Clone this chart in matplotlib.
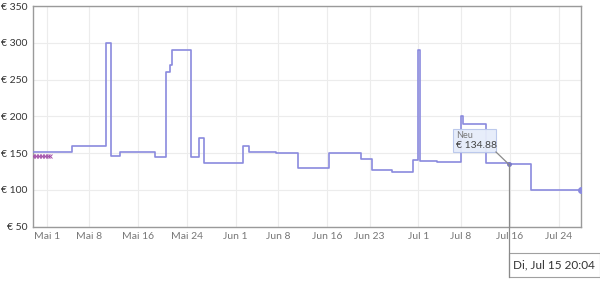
import pandas as pd
import matplotlib
matplotlib.use("Agg")
import matplotlib.pyplot as plt
import matplotlib.dates as mdates
from matplotlib.patches import Rectangle

plt.rcParams['font.family'] = ['Lato', 'DejaVu Sans']

# price history (step, value holds until next date)
step_dates = ["2025-04-28 18:00", "2025-05-05 04:00", "2025-05-10 18:00", "2025-05-11 12:00",
              "2025-05-13 01:00", "2025-05-18 19:00", "2025-05-20 13:00", "2025-05-21 06:00",
              "2025-05-21 14:00", "2025-05-24 16:00", "2025-05-26 01:00", "2025-05-26 21:00",
              "2025-06-02 04:00", "2025-06-03 05:00", "2025-06-07 14:00", "2025-06-11 04:00",
              "2025-06-16 06:00", "2025-06-21 14:00", "2025-06-23 09:00", "2025-06-26 16:00",
              "2025-06-30 02:00", "2025-06-30 23:00", "2025-07-01 05:00", "2025-07-04 00:00",
              "2025-07-07 23:30", "2025-07-08 07:00", "2025-07-12 02:00", "2025-07-15 20:04",
              "2025-07-19 11:00", "2025-07-27 16:00"]
step_prices = [151, 160, 300, 146, 151, 145, 260, 270, 290, 145, 170, 137,
               160, 152, 150, 130, 150, 142, 126.5, 125, 140, 290, 139, 137.5,
               200, 190, 136.5, 134.88, 100, 100]

# second series (x markers) at the start
mark_dates = ["2025-04-28 18:00", "2025-04-29 06:00", "2025-04-29 18:00",
              "2025-04-30 06:00", "2025-04-30 18:00", "2025-05-01 06:00", "2025-05-01 14:00"]
mark_prices = [146, 146, 146, 146, 146, 146, 146]

tick_dates = ["2025-05-01", "2025-05-08", "2025-05-16", "2025-05-24", "2025-06-01", "2025-06-08",
              "2025-06-16", "2025-06-23", "2025-07-01", "2025-07-08", "2025-07-16", "2025-07-24"]
tick_labels = ["Mai 1", "Mai 8", "Mai 16", "Mai 24", "Jun 1", "Jun 8",
               "Jun 16", "Jun 23", "Jul 1", "Jul 8", "Jul 16", "Jul 24"]
month_starts = ["2025-05-01", "2025-06-01", "2025-07-01"]
y_ticks = [50, 100, 150, 200, 250, 300, 350]

hover_date = "2025-07-15 20:04"
hover_price = 134.88

sd = pd.to_datetime(step_dates)
md = pd.to_datetime(mark_dates)

fig = plt.figure(figsize=(6, 2.82), dpi=100)
ax = fig.add_axes([33/600, 55.3/282, 548/600, 220.7/282])

line_c = '#8a8ade'
ax.step(sd, step_prices, where='post', color=line_c, lw=1.2, zorder=3)
ax.plot(sd[-1], step_prices[-1], 'o', color=line_c, ms=4, zorder=4)
ax.plot(md, mark_prices, color='#a452aa', lw=0.6, marker='x', ms=2.5, mew=0.7, zorder=4)

ax.set_xlim(pd.Timestamp("2025-04-28 18:00"), pd.Timestamp("2025-07-27 16:30"))
ax.set_ylim(50, 350)
ax.set_yticks(y_ticks)
ax.set_yticklabels([f"€ {v}" for v in y_ticks], color='#333333', fontsize=7.5)
ax.set_xticks(pd.to_datetime(tick_dates))
ax.set_xticklabels(tick_labels, color='#777777', fontsize=7.5)
ax.set_xticks(pd.to_datetime(month_starts), minor=True)
ax.tick_params(axis='both', which='major', length=0, pad=4)
ax.tick_params(axis='x', which='minor', direction='in', length=2.5, color='#888888')
ax.grid(True, color='#ececec', lw=0.8, zorder=0)
for s in ax.spines.values():
    s.set_color('#9a9a9a')
    s.set_linewidth(1)

# hover tooltip
hx = mdates.date2num(pd.Timestamp(hover_date))
px, py = ax.transData.transform((hx, hover_price))
fx, fy = px / 600, py / 282
ax.plot(hx, hover_price, 'o', color='#7a7ac8', ms=2.5, zorder=5)
fig.add_artist(plt.Line2D([496/600, fx], [130/282, fy], color='#8a8a8a', lw=0.9))
fig.add_artist(plt.Line2D([fx, fx], [fy, 5/282], color='#8a8a8a', lw=0.9))
fig.add_artist(Rectangle((453/600, 130/282), 43/600, 23/282, transform=fig.transFigure,
                         facecolor='#e6ecfa', edgecolor='#b9c7ec', lw=0.8, alpha=0.95))
fig.text(456/600, 147/282, "Neu", fontsize=6.5, color='#777777', va='center')
fig.text(456/600, 137/282, "€ 134.88", fontsize=7.5, color='#444444', va='center')

fig.add_artist(Rectangle((509/600, 4/282), 92/600, 24/282, transform=fig.transFigure,
                         facecolor='#d8d8d8', edgecolor='none'))
fig.add_artist(Rectangle((fx, 5.5/282), 91/600, 23.5/282, transform=fig.transFigure,
                         facecolor='white', edgecolor='#a0a0a0', lw=0.8))
fig.text(fx + 4/600, 17/282, "Di, Jul 15 20:04", fontsize=8.5, color='#333333', va='center')

fig.savefig("out.png", dpi=100)
